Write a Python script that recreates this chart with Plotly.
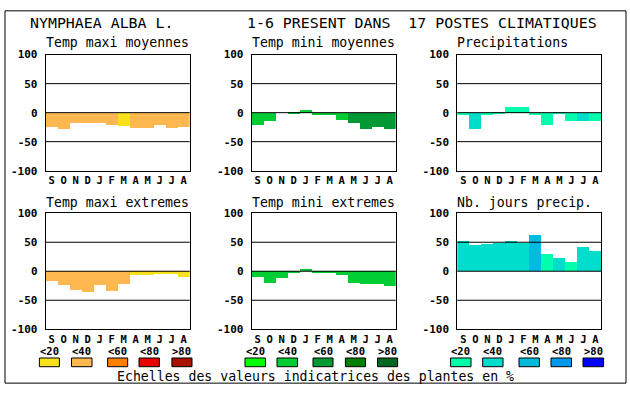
import plotly.graph_objects as go

# ---------------- data ----------------
months = ["S", "O", "N", "D", "J", "F", "M", "A", "M", "J", "J", "A"]

tmax_moy = [-24, -27, -17, -17, -17, -21, -22, -26, -26, -21, -26, -24]
tmin_moy = [-20, -14, 0, 2, 5, -4, -2, -12, -17, -27, -24, -27]
precip = [-4, -27, -4, 2, 10, 10, -4, -20, 2, -14, -14, -14]
tmax_ext = [-17, -24, -32, -37, -24, -35, -22, -7, -7, -5, -5, -10]
tmin_ext = [-10, -20, -12, -2, 4, -4, -4, -7, -20, -22, -22, -25]
nb_jours = [52, 45, 47, 49, 52, 49, 62, 30, 22, 15, 42, 34]

# class index per bar (0:<20, 1:<40, 2:<60, 3:<80, 4:>80)
tmax_moy_cls = [1, 1, 1, 1, 1, 1, 0, 1, 1, 1, 1, 1]
tmin_moy_cls = [1, 1, 1, 1, 1, 1, 1, 1, 2, 2, 2, 2]
precip_cls = [0, 1, 0, 0, 0, 0, 0, 0, 0, 0, 1, 0]
tmax_ext_cls = [1, 1, 1, 1, 1, 1, 1, 0, 0, 0, 0, 0]
tmin_ext_cls = [1, 1, 1, 1, 1, 1, 1, 1, 1, 1, 1, 1]
nb_jours_cls = [1, 1, 1, 1, 1, 1, 2, 0, 1, 0, 1, 1]

class_labels = ["<20", "<40", "<60", "<80", ">80"]
ytick_vals = [100, 50, 0, -50, -100]
ytick_text = ["100", "50", "0", "-50", "-100"]

titles = ["Temp maxi moyennes", "Temp mini moyennes", "Precipitations",
          "Temp maxi extremes", "Temp mini extremes", "Nb. jours precip."]

palettes = {
    "warm": ["#f8e11a", "#ffb850", "#ff7f00", "#e60000", "#aa1100"],
    "green": ["#00ff00", "#00cc33", "#009933", "#007f00", "#006622"],
    "blue": ["#00ffaa", "#00ddcc", "#00bbdd", "#0099ee", "#0000ff"],
}

# ---------------- layout geometry (pixels) ----------------
W, H = 630, 394
col_x = [45.7, 251.7, 457.3]
row_y = [50.3, 214.3]
PW, PH = 144, 120

def fx(x):
    return x / W

def fy(y):
    return 1 - y / H

panels = [
    (tmax_moy, tmax_moy_cls, "warm", 0, 0),
    (tmin_moy, tmin_moy_cls, "green", 1, 0),
    (precip, precip_cls, "blue", 2, 0),
    (tmax_ext, tmax_ext_cls, "warm", 0, 1),
    (tmin_ext, tmin_ext_cls, "green", 1, 1),
    (nb_jours, nb_jours_cls, "blue", 2, 1),
]

MONO = "DejaVu Sans Mono"
fig = go.Figure()
layout = dict(
    width=W, height=H, margin=dict(l=0, r=0, t=0, b=0),
    paper_bgcolor="white", plot_bgcolor="white",
    bargap=0, showlegend=False,
)
shapes = []
annotations = []

for i, (vals, cls, pal, c, r) in enumerate(panels, start=1):
    xs = "" if i == 1 else str(i)
    colors = [palettes[pal][k] for k in cls]
    fig.add_trace(go.Bar(
        x=list(range(12)), y=vals, width=1,
        marker=dict(color=colors, line=dict(width=0)),
        xaxis="x" + xs, yaxis="y" + xs, hoverinfo="skip",
    ))
    x0, y0 = col_x[c], row_y[r]
    layout["xaxis" + xs] = dict(
        domain=[fx(x0), fx(x0 + PW)], range=[-0.5, 11.5], anchor="y" + xs,
        tickmode="array", tickvals=list(range(12)), ticktext=months,
        tickfont=dict(family=MONO, size=10.5, color="black", weight="bold"),
        ticks="", ticklabelstandoff=0,
        showline=True, mirror=True, linecolor="black", linewidth=1,
        showgrid=False, zeroline=False, fixedrange=True,
    )
    layout["yaxis" + xs] = dict(
        domain=[fy(y0 + PH), fy(y0)], range=[-100, 100], anchor="x" + xs,
        tickmode="array", tickvals=ytick_vals, ticktext=ytick_text,
        tickfont=dict(family=MONO, size=11, color="black", weight="bold"),
        ticks="", ticklabelstandoff=5,
        showline=True, mirror=True, linecolor="black", linewidth=1,
        showgrid=False, zeroline=False, fixedrange=True,
    )
    for v in [50, 0, -50]:
        shapes.append(dict(
            type="line", xref="x" + xs + " domain", yref="y" + xs,
            x0=0, x1=1, y0=v, y1=v, line=dict(color="black", width=1),
            layer="above",
        ))
    annotations.append(dict(
        text=titles[i - 1], xref="paper", yref="paper",
        x=fx(x0 - 2), y=fy(38 if r == 0 else 203),
        xanchor="left", yanchor="middle", showarrow=False,
        font=dict(family=MONO, size=13.2, color="black"),
    ))

# main title
annotations.append(dict(
    text="NYMPHAEA ALBA L.", xref="paper", yref="paper",
    x=fx(28), y=fy(18), xanchor="left", yanchor="middle", showarrow=False,
    font=dict(family=MONO, size=14.9, color="black"),
))
annotations.append(dict(
    text="1-6 PRESENT DANS \u00a017 POSTES CLIMATIQUES", xref="paper", yref="paper",
    x=fx(245), y=fy(18), xanchor="left", yanchor="middle", showarrow=False,
    font=dict(family=MONO, size=14.9, color="black"),
))

# legend boxes
box_x = [
    [(39.4, 59.4), (71.5, 92), (107.6, 127.7), (139, 159.4), (171.9, 192)],
    [(245, 265.5), (277, 297.6), (313, 333), (345.4, 365.5), (377.5, 397.6)],
    [(450.6, 471), (482.7, 503), (519, 539.4), (551, 571.5), (583, 603.6)],
]
for g, pal in enumerate(["warm", "green", "blue"]):
    for k, (a, b) in enumerate(box_x[g]):
        shapes.append(dict(
            type="rect", xref="paper", yref="paper",
            x0=fx(a), x1=fx(b), y0=fy(373), y1=fy(364),
            fillcolor=palettes[pal][k], line=dict(color="black", width=1),
        ))
        annotations.append(dict(
            text=class_labels[k].replace("<", "&lt;").replace(">", "&gt;"),
            xref="paper", yref="paper",
            x=fx((a + b) / 2), y=fy(356.5), xanchor="center", yanchor="middle",
            showarrow=False, borderpad=0,
            font=dict(family=MONO, size=10.5, color="black", weight="bold"),
        ))

annotations.append(dict(
    text="Echelles des valeurs indicatrices des plantes en %",
    xref="paper", yref="paper", x=fx(315), y=fy(383),
    xanchor="center", yanchor="middle", showarrow=False,
    font=dict(family=MONO, size=13.2, color="black"),
))

# outer frame
shapes.append(dict(
    type="rect", xref="paper", yref="paper",
    x0=fx(5), x1=fx(626), y0=fy(390), y1=fy(5),
    line=dict(color="black", width=1), fillcolor="rgba(0,0,0,0)",
))

layout["shapes"] = shapes
layout["annotations"] = annotations
fig.update_layout(**layout)
fig.write_html(
    "out.html",
    config={"displayModeBar": False},
    post_script="document.body.style.margin='0';document.body.style.overflow='hidden';",
)
